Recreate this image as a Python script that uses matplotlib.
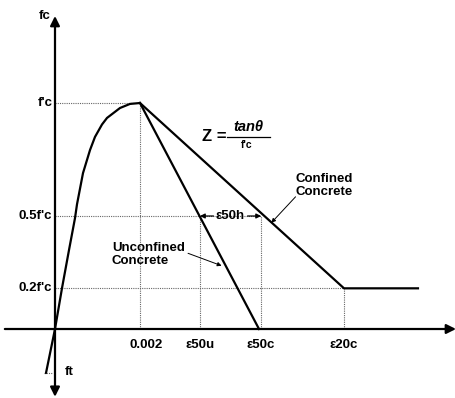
import numpy as np
import matplotlib
matplotlib.use("Agg")
import matplotlib.pyplot as plt

plt.rcParams['font.family'] = ['Liberation Sans', 'DejaVu Sans']
plt.rcParams['font.weight'] = 'bold'

# strain (x) and stress normalised by f'c (y)
asc_strain = [-0.000212, 0.0, 0.000165, 0.00033, 0.00047, 0.000518, 0.000659, 0.000824,
              0.000941, 0.001106, 0.001224, 0.00153, 0.001765, 0.002]
asc_stress = [-0.195, 0.0, 0.181, 0.35, 0.49, 0.552, 0.690, 0.792,
              0.850, 0.905, 0.934, 0.978, 0.996, 1.0]

unconf_strain = [0.002, 0.0048]
unconf_stress = [1.0, 0.0]

conf_strain = [0.002, 0.0068, 0.00854]
conf_stress = [1.0, 0.18, 0.18]

eps_peak = 0.002
eps50u = 0.00341
eps50c = 0.00485
eps20c = 0.0068
lvl_half = 0.5
lvl_20 = 0.18

ytick_vals = [1.0, lvl_half, lvl_20]
ytick_labels = ["f'c", "0.5f'c", "0.2f'c"]
xtick_vals = [eps_peak, eps50u, eps50c, eps20c]
xtick_labels = ["0.002", "ε50u", "ε50c", "ε20c"]

fig = plt.figure(figsize=(4.56, 3.98), dpi=100)
ax = fig.add_axes([0, 0, 1, 1])
ax.set_xlim(-0.001294, 0.009435)
ax.set_ylim(-0.3053, 1.4558)
ax.axis('off')

# dotted guide lines
dot = dict(color='#666666', lw=0.8, ls=(0, (1, 1)))
ax.plot([0, eps_peak], [1, 1], **dot)
ax.plot([eps_peak, eps_peak], [0, 1], **dot)
ax.plot([0, eps50c], [lvl_half, lvl_half], **dot)
ax.plot([eps50u, eps50u], [0, lvl_half], **dot)
ax.plot([eps50c, eps50c], [0, lvl_half], **dot)
ax.plot([0, eps20c], [lvl_20, lvl_20], **dot)
ax.plot([eps20c, eps20c], [0, lvl_20], **dot)
ax.plot([-0.00025, -0.00007], [-0.195, -0.195], **dot)

# axes with arrows
arr = dict(arrowstyle='-|>', color='black', lw=1.6, mutation_scale=14, shrinkA=0, shrinkB=0)
ax.annotate('', xy=(0.009435, 0), xytext=(-0.00118, 0), arrowprops=arr)
ax.annotate('', xy=(0, 1.385), xytext=(0, 0), arrowprops=arr)
ax.annotate('', xy=(0, -0.30), xytext=(0, 0), arrowprops=arr)

# curves
ax.plot(asc_strain, asc_stress, color='black', lw=1.6, solid_capstyle='round')
ax.plot(unconf_strain, unconf_stress, color='black', lw=1.6)
ax.plot(conf_strain, conf_stress, color='black', lw=1.6)

fs = 9.5
for v, lab in zip(ytick_vals, ytick_labels):
    ax.text(-0.00006, v, lab, ha='right', va='center', fontsize=fs)
xoff = [0.00014, 0.0, 0.0, 0.0]
for v, lab, o in zip(xtick_vals, xtick_labels, xoff):
    ax.text(v + o, -0.07, lab, ha='center', va='center', fontsize=fs)
ax.text(-0.00010, 1.385, 'fc', ha='right', va='center', fontsize=fs)
ax.text(0.00022, -0.19, 'ft', ha='left', va='center', fontsize=fs)

# Z formula built from pieces
ax.text(0.00346, 0.85, 'Z =', ha='left', va='center', fontsize=fs + 2.5)
ax.plot([0.00405, 0.00505], [0.85, 0.85], color='black', lw=0.9)
ax.text(0.00455, 0.892, 'tanθ', ha='center', va='center', fontsize=fs + 1, style='italic')
ax.text(0.00452, 0.812, "f'c", ha='center', va='center', fontsize=fs - 2)

# labels with leader lines
ax.text(0.00566, 0.635, 'Confined\nConcrete', ha='left', va='center', fontsize=fs,
        linespacing=1.05)
ax.annotate('', xy=(0.00509, 0.47), xytext=(0.00566, 0.585),
            arrowprops=dict(arrowstyle='-|>', color='black', lw=0.7, mutation_scale=6,
                            shrinkA=0, shrinkB=0))
ax.text(0.00134, 0.33, 'Unconfined\nConcrete', ha='left', va='center', fontsize=fs,
        linespacing=1.05)
ax.annotate('', xy=(0.00392, 0.28), xytext=(0.00313, 0.335),
            arrowprops=dict(arrowstyle='-|>', color='black', lw=0.7, mutation_scale=6,
                            shrinkA=0, shrinkB=0))

# eps50h dimension
ax.annotate('', xy=(eps50u, lvl_half), xytext=(0.00373, lvl_half),
            arrowprops=dict(arrowstyle='-|>', color='black', lw=0.9, mutation_scale=7,
                            shrinkA=0, shrinkB=0))
ax.annotate('', xy=(eps50c, lvl_half), xytext=(0.00453, lvl_half),
            arrowprops=dict(arrowstyle='-|>', color='black', lw=0.9, mutation_scale=7,
                            shrinkA=0, shrinkB=0))
ax.text(0.00413, lvl_half, 'ε50h', ha='center', va='center', fontsize=fs)

fig.savefig('out.png', dpi=100)
